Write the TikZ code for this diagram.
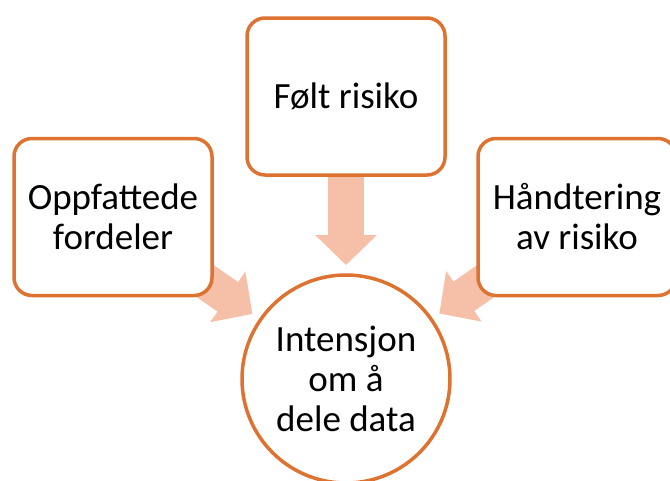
\documentclass[tikz,border=0pt]{standalone}
\usepackage{fontspec}
\setmainfont{Carlito}
\usetikzlibrary{arrows.meta, backgrounds}
\definecolor{kant}{RGB}{222,114,49}
\definecolor{pil}{RGB}{245,191,168}

\begin{document}
\begin{tikzpicture}[
    x=1pt, y=-1pt,
    b/.style={rectangle, draw=kant, line width=3.5pt, rounded corners=18pt, fill=white, minimum width=198pt, minimum height=157pt, align=center, font=\fontsize{37}{40}\selectfont},
    c/.style={circle, draw=kant, line width=3.5pt, fill=white, minimum size=208pt, align=center, font=\fontsize{37}{40}\selectfont},
    a/.style={-{Triangle[width=60pt, length=30pt]}, line width=36pt, pil, shorten >=114pt},
]
\useasboundingbox (0,0) rectangle (670,480);
\node[b] (folt) at (346,96.5) {Følt risiko};
\node[b] (fordeler) at (113,217) {Oppfattede\\fordeler};
\node[b] (handtering) at (577,217) {Håndtering\\av risiko};
\node[c] (intensjon) at (346,379) {Intensjon\\om å\\dele data};
\begin{scope}[on background layer]
\draw[a] (folt.center) -- (intensjon.center);
\draw[a] (fordeler.center) -- (intensjon.center);
\draw[a] (handtering.center) -- (intensjon.center);
\end{scope}
\end{tikzpicture}
\end{document}
